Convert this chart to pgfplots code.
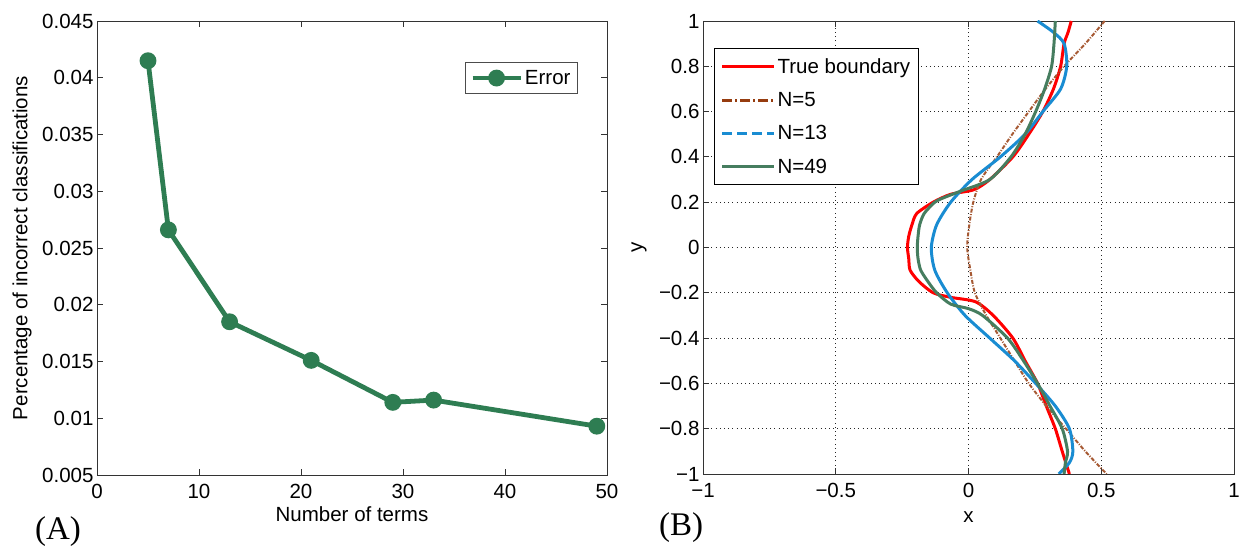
\documentclass[border=0pt]{standalone}
\usepackage{pgfplots}
\pgfplotsset{compat=1.18}
\usepackage{fontspec}
\setmainfont{Liberation Sans}
\newfontfamily\timesfont{Liberation Serif}
\definecolor{errgreen}{RGB}{46,125,82}
\definecolor{tbred}{RGB}{255,0,0}
\definecolor{nbrown}{RGB}{150,60,15}
\definecolor{nblue}{RGB}{25,140,210}
\definecolor{ngreen}{RGB}{70,125,95}
\begin{document}
\begin{tikzpicture}[x=1pt,y=1pt]
\path[use as bounding box] (0,0) rectangle (1243,546);
\pgfplotsset{every axis/.append style={
  scale only axis,
  font=\fontsize{20.5}{24}\selectfont,
  tick label style={font=\fontsize{20.5}{24}\selectfont},
  xticklabel style={yshift=-6pt},
  tick align=inside,
  major tick length=6pt,
  axis line style={line width=0.9pt, black!80},
  every tick/.style={black!80, line width=0.8pt},
  /pgf/number format/assume math mode=true,
  scaled ticks=false,
}}

% ---------- Panel A ----------
\begin{axis}[
  at={(97pt,71pt)}, anchor=south west,
  width=510pt, height=454pt,
  xmin=0, xmax=50, ymin=0.005, ymax=0.045,
  xtick={0,10,20,30,40,50},
  xticklabels={0,10,20,30,40,50},
  ytick={0.005,0.01,0.015,0.02,0.025,0.03,0.035,0.04,0.045},
  yticklabels={0.005,0.01,0.015,0.02,0.025,0.03,0.035,0.04,0.045},
  xlabel={Number of terms},
  ylabel={Percentage of incorrect classifications},
  xlabel style={at={(axis description cs:0.5,-0.086)}, anchor=center},
  ylabel style={at={(axis description cs:-0.147,0.5)}, anchor=center, rotate=0},
  legend style={at={(axis description cs:0.943,0.910)}, anchor=north east,
    draw=black!70, line width=0.8pt, font=\fontsize{20.5}{24}\selectfont,
    inner xsep=5pt, inner ysep=6pt},
  legend image code/.code={\draw[mark repeat=2,mark phase=2,#1] plot coordinates {(0pt,0pt)(24pt,0pt)(48pt,0pt)};},
]
\addplot[errgreen, line width=4.8pt, mark=*, mark size=6pt, mark options={solid}] coordinates {
 (5,0.0415) (7,0.0266) (13,0.0185) (21,0.0151) (29,0.0114) (33,0.0116) (49,0.0093)
};
\addlegendentry{Error}
\end{axis}

% ---------- Panel B ----------
\begin{axis}[
  at={(703pt,72pt)}, anchor=south west,
  width=531pt, height=453pt,
  xmin=-1, xmax=1, ymin=-1, ymax=1,
  xtick={-1,-0.5,0,0.5,1},
  xticklabels={−1,−0.5,0,0.5,1},
  ytick={-1,-0.8,-0.6,-0.4,-0.2,0,0.2,0.4,0.6,0.8,1},
  yticklabels={−1,−0.8,−0.6,−0.4,−0.2,0,0.2,0.4,0.6,0.8,1},
  grid=major,
  major grid style={black!85, dash pattern=on 1pt off 3.2pt, line width=0.8pt},
  xlabel={x}, ylabel={y},
  xlabel style={at={(axis description cs:0.5,-0.095)}, anchor=center},
  ylabel style={at={(axis description cs:-0.1205,0.5)}, anchor=center, rotate=0},
  legend style={at={(axis description cs:0.021,0.940)}, anchor=north west,
    draw=black, line width=0.8pt, font=\fontsize{20.5}{24}\selectfont,
    row sep=13.5pt, inner xsep=6pt, inner ysep=8pt},
  legend cell align=left,
  legend image code/.code={\draw[#1] (0pt,0pt) -- (52pt,0pt);},
]
\addplot[tbred, line width=3pt, smooth, tension=0.45, forget plot] coordinates {
 (0.387,1) (0.375,0.95) (0.36,0.9) (0.347,0.8) (0.32,0.7) (0.28,0.6) (0.227,0.5) (0.167,0.4) (0.08,0.3) (0.02,0.255) (-0.067,0.235) (-0.133,0.2) (-0.195,0.15) (-0.213,0.1) (-0.225,0.05) (-0.23,0) (-0.225,-0.05) (-0.22,-0.1) (-0.187,-0.15) (-0.133,-0.2) (-0.067,-0.22) (0.027,-0.24) (0.093,-0.3) (0.167,-0.4) (0.213,-0.5) (0.26,-0.6) (0.293,-0.7) (0.327,-0.8) (0.353,-0.9) (0.38,-1)
};
\addplot[nbrown!85!white, line width=2pt, dash pattern=on 4pt off 1.5pt on 1pt off 1.5pt, smooth, tension=0.45, forget plot] coordinates {
 (0.513,1) (0.44,0.9) (0.36,0.8) (0.29,0.7) (0.227,0.6) (0.165,0.5) (0.107,0.4) (0.047,0.3) (0.018,0.2) (0.003,0.1) (-0.005,0) (0.007,-0.1) (0.024,-0.2) (0.067,-0.3) (0.12,-0.4) (0.173,-0.5) (0.227,-0.6) (0.293,-0.7) (0.367,-0.8) (0.44,-0.9) (0.52,-1)
};
\addplot[nblue, line width=3pt, smooth, tension=0.45, forget plot] coordinates {
 (0.26,1) (0.32,0.95) (0.36,0.9) (0.37,0.8) (0.347,0.7) (0.28,0.6) (0.213,0.5) (0.12,0.4) (0.013,0.3) (-0.067,0.2) (-0.12,0.1) (-0.14,0) (-0.127,-0.1) (-0.08,-0.2) (-0.013,-0.3) (0.08,-0.4) (0.173,-0.5) (0.253,-0.6) (0.327,-0.7) (0.38,-0.8) (0.393,-0.9) (0.38,-0.95) (0.34,-1)
};
\addplot[ngreen, line width=3pt, smooth, tension=0.45, forget plot] coordinates {
 (0.327,1) (0.322,0.9) (0.313,0.8) (0.287,0.7) (0.253,0.6) (0.213,0.5) (0.16,0.4) (0.08,0.3) (-0.027,0.25) (-0.093,0.22) (-0.127,0.2) (-0.167,0.15) (-0.184,0.1) (-0.19,0.05) (-0.193,0) (-0.19,-0.05) (-0.18,-0.1) (-0.153,-0.15) (-0.12,-0.2) (-0.067,-0.25) (0,-0.27) (0.053,-0.3) (0.147,-0.4) (0.207,-0.5) (0.26,-0.6) (0.307,-0.7) (0.353,-0.8) (0.373,-0.9) (0.365,-0.95) (0.36,-1)
};
\addlegendimage{tbred, line width=3pt}
\addlegendentry{True boundary}
\addlegendimage{nbrown, line width=3pt, dash pattern=on 10pt off 3pt on 2pt off 3pt}
\addlegendentry{N=5}
\addlegendimage{nblue, line width=3pt, dash pattern=on 10pt off 5pt}
\addlegendentry{N=13}
\addlegendimage{ngreen, line width=3pt}
\addlegendentry{N=49}
\end{axis}

\node[font=\timesfont\fontsize{33}{36}\selectfont, anchor=center] at (58,14) {(A)};
\node[font=\timesfont\fontsize{33}{36}\selectfont, anchor=center] at (681,18) {(B)};
\end{tikzpicture}
\end{document}
